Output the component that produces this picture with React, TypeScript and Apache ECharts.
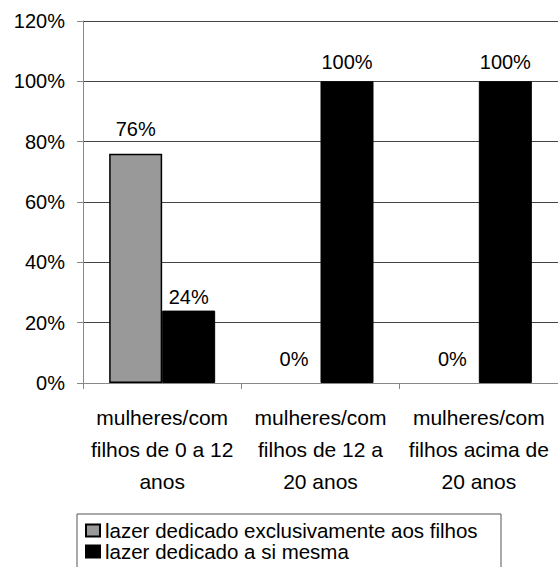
import React, { useEffect, useRef } from "react";
import * as echarts from "echarts";

// Grupos de mulheres (rótulos do eixo X, quebrados em linhas)
const categories = [
  "mulheres/com\nfilhos de 0 a 12\nanos",
  "mulheres/com\nfilhos de 12 a\n20 anos",
  "mulheres/com\nfilhos acima de\n20 anos",
];

const seriesNames = [
  "lazer dedicado exclusivamente aos filhos",
  "lazer dedicado a si mesma",
];

// Percentuais por grupo
const exclusivoFilhos = [76, 0, 0];
const siMesma = [24, 100, 100];

const yTicks = [0, 20, 40, 60, 80, 100, 120];

// Distância de cada rótulo de valor acima da sua barra (px)
const distFilhos = [15, 14, 14];
const distSiMesma = [4, 9, 9];

const FONT = "'Liberation Sans', Arial, sans-serif";

export default function App() {
  const ref = useRef<HTMLDivElement>(null);

  useEffect(() => {
    if (!ref.current) return;
    const chart = echarts.init(ref.current, undefined, { renderer: "svg" });

    // barras de valor zero não mostram contorno
    const mk = (vals: number[], dists: number[], border: number) =>
      vals.map((v, i) => ({
        value: v,
        label: { distance: dists[i] },
        itemStyle: { borderWidth: v === 0 ? 0 : border },
      }));

    const labelStyle = {
      show: true,
      position: "top" as const,
      formatter: (p: any) => `${p.value}%`,
      fontSize: 20,
      color: "#000",
      fontFamily: FONT,
    };

    chart.setOption({
      animation: false,
      backgroundColor: "#fff",
      textStyle: { fontFamily: FONT },
      grid: { left: 83, top: 21, width: 483, height: 362, containLabel: false },
      xAxis: {
        type: "category",
        data: categories,
        axisLine: { lineStyle: { color: "#888", width: 1 } },
        axisTick: { show: true, length: 6, alignWithLabel: false, lineStyle: { color: "#888" } },
        axisLabel: {
          interval: 0,
          margin: 18,
          fontSize: 21,
          lineHeight: 32,
          color: "#000",
          fontFamily: FONT,
        },
      },
      yAxis: {
        type: "value",
        min: yTicks[0],
        max: yTicks[yTicks.length - 1],
        interval: 20,
        axisLine: { show: true, lineStyle: { color: "#888", width: 1 } },
        axisTick: { show: true, length: 6, lineStyle: { color: "#888" } },
        axisLabel: {
          formatter: (v: number) => `${v}%`,
          margin: 18,
          fontSize: 20,
          color: "#000",
          fontFamily: FONT,
        },
        splitLine: { show: true, lineStyle: { color: "#444", width: 1 } },
      },
      legend: {
        orient: "vertical",
        left: 77,
        top: 514,
        height: 120,
        backgroundColor: "#fff",
        borderColor: "#555",
        borderWidth: 1,
        borderRadius: 0,
        padding: [6, 8, 12, 8],
        itemWidth: 14,
        itemHeight: 12,
        itemGap: 0,
        icon: "rect",
        textStyle: {
          fontSize: 20.5,
          lineHeight: 21,
          width: 388,
          overflow: "none",
          color: "#000",
          fontFamily: FONT,
          padding: [0, 0, 0, 0],
        },
        data: seriesNames,
      },
      series: [
        {
          name: seriesNames[0],
          type: "bar",
          data: mk(exclusivoFilhos, distFilhos, 1.5),
          barWidth: 53,
          barGap: "0%",
          itemStyle: { color: "#999999", borderColor: "#000", borderWidth: 1.5 },
          label: labelStyle,
        },
        {
          name: seriesNames[1],
          type: "bar",
          data: mk(siMesma, distSiMesma, 1),
          barWidth: 53,
          barGap: "0%",
          itemStyle: { color: "#000000", borderColor: "#000", borderWidth: 1 },
          label: labelStyle,
        },
      ],
    });

    return () => chart.dispose();
  }, []);

  return (
    <div
      ref={ref}
      style={{ position: "fixed", left: 0, top: 0, width: 558, height: 567, background: "#fff" }}
    />
  );
}
